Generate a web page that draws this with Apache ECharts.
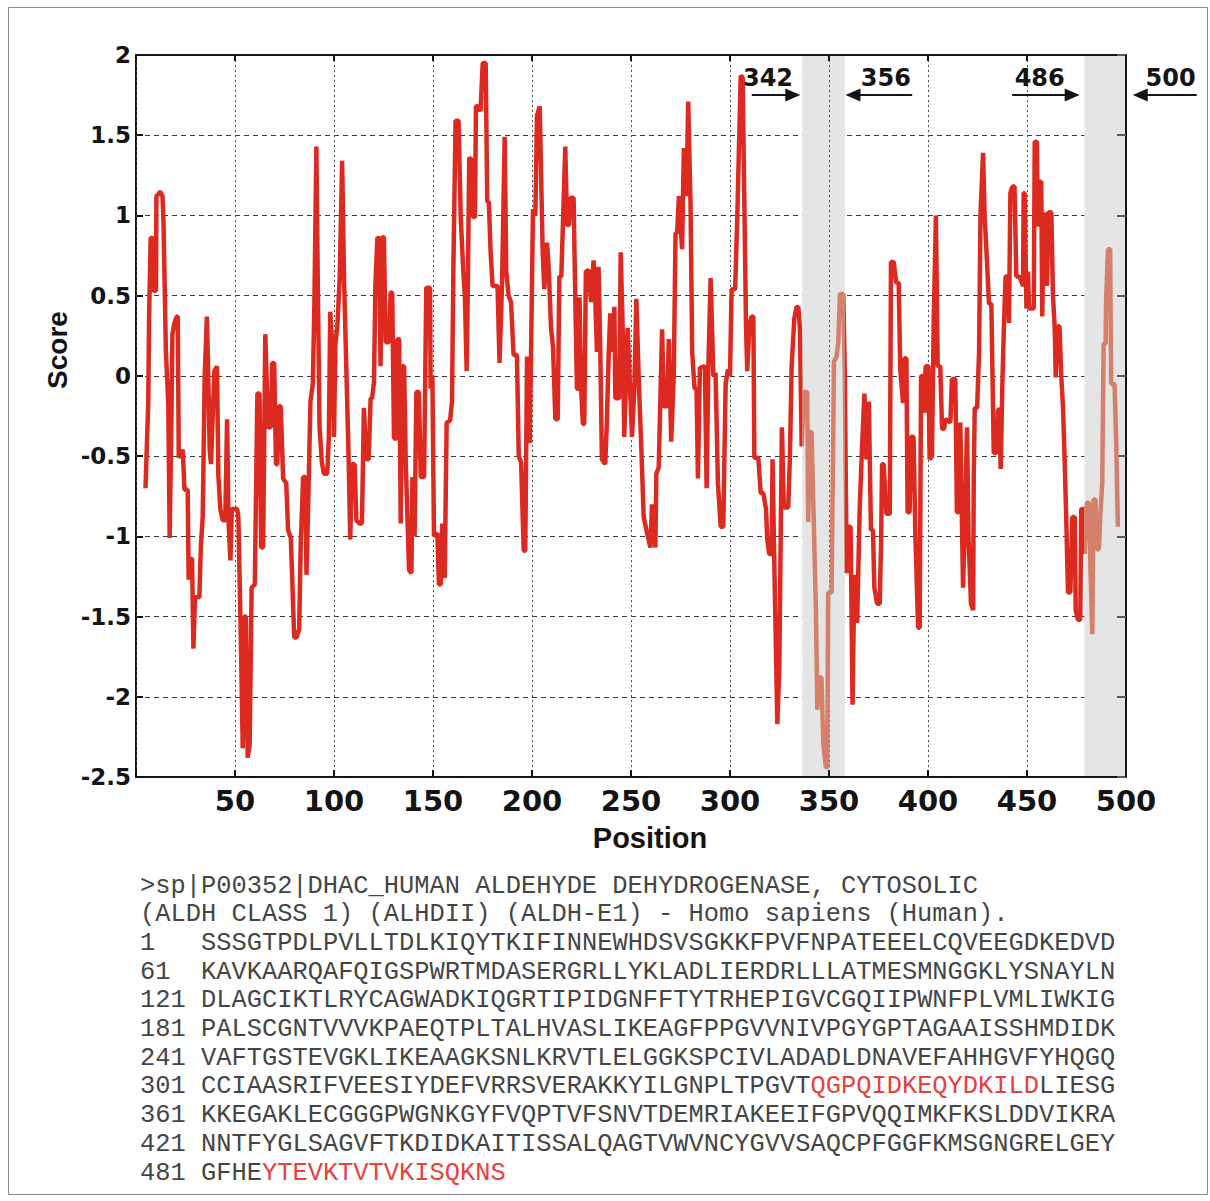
<!DOCTYPE html>
<html>
<head>
<meta charset="utf-8">
<title>ALDH1A1 epitope score profile</title>
<script src="https://cdn.jsdelivr.net/npm/echarts@6/dist/echarts.min.js"></script>
<style>
  html, body { margin: 0; padding: 0; background: #ffffff; }
  #chart { width: 1210px; height: 1201px; }
</style>
</head>
<body>
<div id="chart"></div>
<script>
// Residue position along the sequence and the smoothed score at that position
const position = [
  4.8, 6.2, 6.6, 7.4, 8.5, 8.8, 10.1, 10.3, 11.2, 12.2, 13.4, 13.9, 15.1, 16.3, 17.0, 17.7, 18.4, 19.4, 20.6, 21.1,
  21.6, 23.6, 24.5, 26.1, 26.6, 27.8, 28.3, 29.0, 29.8, 32.0, 32.8, 33.7, 34.7, 35.8, 36.5, 37.2, 37.9, 38.8, 39.6, 40.9,
  41.6, 42.6, 43.8, 45.1, 46.0, 46.7, 47.7, 48.4, 49.7, 51.1, 51.7, 53.0, 53.9, 54.7, 55.5, 56.4, 57.4, 58.4, 60.0, 61.3,
  62.4, 63.2, 64.2, 65.3, 66.7, 68.1, 68.8, 69.8, 70.7, 71.4, 72.1, 73.1, 74.3, 75.9, 76.8, 78.2, 79.9, 81.1, 82.4, 83.2,
  84.4, 85.5, 86.1, 87.1, 88.1, 89.3, 90.1, 91.1, 91.8, 92.7, 93.9, 94.9, 96.6, 97.4, 98.1, 99.2, 100.0, 100.7, 101.7, 102.9,
  104.1, 105.1, 106.2, 107.4, 108.2, 109.1, 110.4, 111.3, 113.0, 114.1, 115.1, 116.3, 117.5, 118.5, 119.2, 120.2, 120.9, 121.9, 122.8, 123.5,
  124.4, 125.2, 126.1, 127.8, 128.6, 129.4, 130.3, 131.6, 132.0, 132.9, 133.7, 134.5, 135.4, 136.2, 137.9, 139.1, 139.6, 140.7, 141.6, 142.9,
  143.8, 145.5, 146.6, 148.5, 148.8, 149.7, 150.5, 152.2, 153.0, 153.9, 154.7, 155.9, 156.9, 158.6, 159.6, 160.3, 161.4, 162.9, 164.0, 165.3,
  166.1, 167.0, 167.7, 168.3, 169.3, 170.2, 171.2, 171.7, 172.7, 174.0, 175.1, 176.6, 177.4, 178.2, 179.1, 180.1, 182.6, 183.6, 184.9, 186.2,
  187.0, 188.2, 189.4, 190.7, 192.4, 193.3, 194.5, 195.8, 196.6, 197.5, 198.8, 199.5, 200.5, 201.7, 202.5, 203.9, 204.5, 205.4, 206.2, 207.6,
  208.4, 209.6, 210.6, 211.8, 213.0, 213.8, 214.8, 215.6, 216.8, 217.7, 218.7, 219.3, 221.0, 221.9, 222.7, 223.5, 224.0, 224.7, 225.7, 226.4,
  227.2, 228.6, 229.8, 231.1, 232.0, 232.8, 233.6, 234.5, 235.3, 237.0, 237.8, 238.7, 239.5, 240.9, 241.6, 242.1, 244.0, 244.8, 245.9, 246.6,
  248.3, 250.5, 251.7, 252.7, 253.9, 255.1, 256.4, 257.8, 259.8, 260.6, 262.3, 262.8, 264.0, 265.7, 266.6, 268.2, 269.1, 270.3, 271.6, 272.5,
  273.3, 274.2, 275.8, 276.7, 278.0, 278.9, 280.1, 280.9, 282.1, 283.1, 283.8, 284.8, 287.3, 288.2, 289.0, 290.2, 291.6, 292.7, 293.9, 295.3,
  296.6, 297.8, 299.0, 300.0, 300.8, 302.6, 303.7, 305.4, 306.4, 307.1, 308.1, 308.7, 309.8, 310.9, 311.8, 312.3, 314.3, 315.5, 316.8, 318.2,
  318.8, 319.8, 321.0, 321.5, 322.2, 323.9, 324.9, 326.2, 327.2, 329.4, 330.3, 331.1, 332.5, 333.6, 334.5, 335.3, 336.2, 337.3, 339.0, 339.5,
  340.4, 341.2, 342.0, 343.4, 344.1, 345.1, 346.2, 347.1, 348.4, 349.1, 349.6, 351.3, 352.1, 352.5, 353.8, 354.7, 355.5, 357.2, 358.0, 358.9,
  359.9, 360.9, 361.9, 362.8, 364.2, 365.5, 366.7, 367.9, 368.9, 370.1, 371.2, 372.2, 372.9, 374.3, 375.6, 376.3, 376.8, 377.6, 378.5, 379.0,
  380.7, 381.3, 382.7, 383.9, 385.2, 386.0, 387.4, 388.1, 389.1, 389.7, 390.7, 391.4, 392.7, 393.6, 395.0, 395.8, 396.5, 397.5, 398.2, 398.8,
  400.2, 400.8, 402.0, 402.9, 404.0, 404.9, 406.2, 407.1, 408.2, 408.7, 411.3, 412.1, 413.8, 414.6, 415.5, 416.3, 417.7, 418.8, 419.7, 420.5,
  421.7, 422.8, 423.1, 423.6, 424.8, 425.8, 426.5, 427.8, 428.6, 429.8, 430.8, 432.0, 433.2, 434.5, 435.4, 435.9, 436.7, 437.6, 438.4, 439.2,
  440.4, 440.9, 441.6, 442.6, 443.7, 444.6, 446.0, 447.1, 448.0, 448.3, 448.8, 449.7, 450.5, 451.0, 453.4, 453.9, 455.0, 455.5, 456.4, 457.2,
  457.7, 458.4, 459.4, 460.1, 460.8, 462.3, 463.1, 464.0, 464.5, 465.6, 466.4, 467.3, 468.2, 469.0, 469.8, 470.7, 471.9, 472.9, 474.1, 474.6,
  475.7, 476.9, 477.4, 478.6, 479.1, 480.3, 481.3, 482.0, 483.0, 483.6, 484.6, 485.3, 486.3, 487.0, 488.0, 488.7, 489.7, 490.0, 490.9, 492.0,
  492.5, 494.2, 495.0, 495.9
];
const score = [
  -0.70, -0.16, 0.36, 0.86, 0.86, 0.53, 0.53, 1.12, 1.13, 1.15, 1.12, 0.95, 0.15, -0.17, -1.01, -0.44, 0.26, 0.33, 0.37, 0.37,
  -0.51, -0.46, -0.71, -0.71, -1.27, -1.14, -1.14, -1.70, -1.38, -1.38, -1.05, -0.88, 0.00, 0.37, 0.00, -0.46, -0.55, -0.23, 0.03, 0.06,
  -0.62, -0.83, -0.90, -0.90, -0.27, -0.90, -1.15, -0.83, -0.83, -0.83, -0.88, -1.67, -2.32, -1.50, -1.50, -2.38, -2.30, -1.32, -1.30, -0.11,
  -0.11, -1.07, -1.07, 0.26, -0.32, -0.32, 0.08, 0.08, -0.55, -0.55, -0.19, -0.19, -0.64, -0.67, -0.96, -1.01, -1.63, -1.63, -1.58, -1.05,
  -0.63, -0.63, -1.24, -0.73, -0.16, -0.05, 0.45, 1.43, 0.59, -0.32, -0.54, -0.61, -0.61, -0.38, 0.40, 0.18, -0.38, 0.20, 0.31, 0.62,
  1.34, 0.59, 0.06, -0.52, -1.02, -0.55, -0.55, -0.90, -0.92, -0.92, -0.20, -0.52, -0.52, -0.14, -0.14, -0.04, 0.56, 0.86, 0.86, 0.06,
  0.87, 0.86, 0.21, 0.21, 0.52, 0.52, -0.39, -0.39, 0.23, 0.23, -0.92, 0.06, 0.06, -0.52, -1.21, -1.23, -0.63, -1.00, -0.10, -0.10,
  -0.63, -0.63, 0.55, 0.55, -0.08, 0.00, -1.00, -0.98, -1.30, -1.30, -0.92, -1.26, -0.29, -0.28, -0.16, 0.68, 1.59, 1.59, 0.99, 0.65,
  0.50, 0.03, 0.68, 1.36, 1.35, 0.99, 0.99, 1.68, 1.68, 1.65, 1.95, 1.95, 1.09, 1.08, 0.77, 0.56, 0.56, 0.08, 0.59, 1.49,
  0.65, 0.50, 0.46, 0.13, 0.13, -0.50, -0.54, -1.09, -1.09, 0.12, -0.42, 0.12, 1.04, 1.00, 1.62, 1.68, 1.31, 0.77, 0.54, 0.83,
  0.68, 0.30, 0.18, -0.27, -0.27, 0.62, 0.62, 0.94, 1.43, 0.94, 0.94, 1.11, 1.11, 0.46, -0.08, -0.08, 0.49, -0.05, -0.30, -0.30,
  0.65, 0.66, 0.46, 0.72, 0.46, 0.15, 0.68, 0.15, -0.52, -0.55, -0.29, 0.12, 0.39, 0.15, 0.43, -0.14, -0.14, 0.77, 0.24, -0.38,
  0.30, -0.38, -0.08, 0.48, -0.02, -0.41, -0.88, -0.96, -1.07, -0.80, -1.07, -0.61, -0.57, 0.29, -0.19, -0.19, 0.23, -0.41, 0.00, 0.89,
  0.89, 1.12, 0.79, 1.42, 1.12, 1.71, 1.05, 0.15, -0.08, -0.08, -0.64, 0.05, 0.06, -0.70, 0.02, 0.61, 0.00, 0.02, -0.67, -0.94,
  -0.94, -0.05, 0.04, 0.00, 0.54, 0.54, 1.00, 1.87, 1.86, 1.21, 0.31, 0.03, 0.31, 0.37, 0.37, -0.51, -0.51, -0.73, -0.73, -0.83,
  -1.02, -1.11, -1.11, -0.52, -1.05, -2.17, -1.82, -0.32, -0.82, -0.82, -0.49, 0.05, 0.36, 0.43, 0.43, 0.30, -0.44, -0.10, -0.10, -0.91,
  -0.35, -0.35, -0.76, -1.46, -2.08, -1.88, -1.88, -2.29, -2.44, -2.44, -1.35, -1.35, -0.42, 0.09, 0.12, 0.21, 0.51, 0.51, 0.00, -1.23,
  -0.94, -0.94, -2.05, -1.24, -1.54, -0.83, -0.44, -0.11, -0.52, -0.16, -0.96, -0.96, -1.32, -1.42, -1.42, -1.05, -0.55, -0.55, -0.76, -0.86,
  -0.86, 0.71, 0.71, 0.58, 0.58, 0.04, -0.17, 0.11, 0.11, -0.85, -0.85, -0.38, -0.38, -0.98, -1.57, -1.57, 0.00, 0.00, -0.23, 0.06,
  0.06, -0.52, -0.50, 0.36, 1.00, 0.06, 0.06, -0.33, -0.33, -0.27, -0.29, -0.02, -0.02, -0.85, -0.85, -0.29, -1.32, -0.85, -0.32, -1.02,
  -1.42, -1.46, -0.64, -0.20, -0.20, 0.15, 1.00, 1.39, 1.00, 0.71, 0.45, 0.45, -0.48, -0.48, -0.21, -0.21, -0.58, -0.03, 0.33, 0.62,
  0.62, 0.33, 1.14, 1.18, 1.18, 0.62, 0.62, 0.59, 0.56, 1.14, 1.14, 0.42, 0.65, 0.42, 0.42, 1.46, 1.46, 0.93, 1.21, 1.21,
  0.37, 0.93, 1.02, 0.56, 1.02, 1.02, 0.50, 0.30, -0.01, 0.31, 0.31, 0.00, -0.20, -0.52, -0.88, -1.35, -1.35, -0.88, -0.88, -1.46,
  -1.52, -1.52, -0.83, -0.83, -1.11, -0.79, -0.79, -1.17, -1.61, -0.77, -0.77, -1.08, -1.08, -0.88, -0.67, 0.20, 0.20, 0.49, 0.79, 0.79,
  -0.05, -0.05, -0.38, -0.94
];

// Shaded position windows around the two peptides
const shadedRanges = [[336.5, 358], [479, 500]];

// Arrow annotations above the plot: label, arrow tail, arrow tip, label centre (all in positions)
const peptideMarks = [
  { label: '342', tail: 311, tip: 335.5, textAt: 319.2 },
  { label: '356', tail: 392, tip: 358.3, textAt: 378.7 },
  { label: '486', tail: 442.5, tip: 476.6, textAt: 456.4 },
  { label: '500', tail: 535.7, tip: 503.4, textAt: 522.5 }
];

// FASTA record printed under the chart
const headerLines = [
  '>sp|P00352|DHAC_HUMAN ALDEHYDE DEHYDROGENASE, CYTOSOLIC',
  '(ALDH CLASS 1) (ALHDII) (ALDH-E1) - Homo sapiens (Human).'
];
const rowStarts = [1, 61, 121, 181, 241, 301, 361, 421, 481];
const rowResidues = [
  'SSSGTPDLPVLLTDLKIQYTKIFINNEWHDSVSGKKFPVFNPATEEELCQVEEGDKEDVD',
  'KAVKAARQAFQIGSPWRTMDASERGRLLYKLADLIERDRLLLATMESMNGGKLYSNAYLN',
  'DLAGCIKTLRYCAGWADKIQGRTIPIDGNFFTYTRHEPIGVCGQIIPWNFPLVMLIWKIG',
  'PALSCGNTVVVKPAEQTPLTALHVASLIKEAGFPPGVVNIVPGYGPTAGAAISSHMDIDK',
  'VAFTGSTEVGKLIKEAAGKSNLKRVTLELGGKSPCIVLADADLDNAVEFAHHGVFYHQGQ',
  'CCIAASRIFVEESIYDEFVRRSVERAKKYILGNPLTPGVTQGPQIDKEQYDKILDLIESG',
  'KKEGAKLECGGGPWGNKGYFVQPTVFSNVTDEMRIAKEEIFGPVQQIMKFKSLDDVIKRA',
  'NNTFYGLSAGVFTKDIDKAITISSALQAGTVWVNCYGVVSAQCPFGGFKMSGNGRELGEY',
  'GFHEYTEVKTVTVKISQKNS'
];
// Residue ranges printed in red
const peptideResidues = [[341, 355], [485, 500]];

const RED = '#dc2a20';
const LIGHT = '#d5806c';
const INK = '#141414';
const TICK_FONT = 'DejaVu Sans';

const chart = echarts.init(document.getElementById('chart'), null, { renderer: 'svg' });

// colour pieces along x: light inside the shaded windows, red elsewhere
const pieces = [];
let from = -1000;
shadedRanges.forEach(([a, b]) => {
  pieces.push({ gt: from, lt: a, color: RED });
  pieces.push({ gte: a, lte: b, color: LIGHT });
  from = b;
});
pieces.push({ gt: from, lt: 1000, color: RED });

const axisInk = { color: INK, width: 2 };

chart.setOption({
  animation: false,
  backgroundColor: '#ffffff',
  grid: { left: 136, right: 84, top: 55, bottom: 424, containLabel: false, outerBoundsMode: 'none' },
  xAxis: [
    {
      type: 'value', min: 0, max: 500, interval: 50, position: 'bottom', z: 2,
      axisLine: { show: true, onZero: false, lineStyle: axisInk },
      axisTick: { show: true, inside: true, length: 7, lineStyle: axisInk },
      axisLabel: {
        formatter: v => (v === 0 ? '' : String(v)),
        fontFamily: TICK_FONT, fontWeight: 'bold', fontSize: 29, color: INK, margin: 9
      },
      splitLine: { show: true, lineStyle: { color: '#4a4a4a', width: 1, type: [2, 3] } }
    },
    {
      type: 'value', min: 0, max: 500, interval: 50, position: 'top', z: 2,
      axisLine: { show: true, onZero: false, lineStyle: axisInk },
      axisTick: { show: true, inside: true, length: 6, lineStyle: axisInk },
      axisLabel: { show: false },
      splitLine: { show: false }
    }
  ],
  yAxis: [
    {
      type: 'value', min: -2.5, max: 2, interval: 0.5, position: 'left', z: 0,
      axisLine: { show: true, onZero: false, lineStyle: axisInk },
      axisTick: { show: true, inside: true, length: 7, lineStyle: axisInk },
      axisLabel: { fontFamily: TICK_FONT, fontWeight: 'bold', fontSize: 23, color: INK, margin: 5 },
      splitLine: { show: true, lineStyle: { color: '#3c3c3c', width: 1, type: [5, 4] } }
    },
    {
      type: 'value', min: -2.5, max: 2, interval: 0.5, position: 'right', z: 2,
      axisLine: { show: true, onZero: false, lineStyle: axisInk },
      axisTick: { show: true, inside: true, length: 9, lineStyle: { color: '#5a5a5a', width: 2 } },
      axisLabel: { show: false },
      splitLine: { show: false }
    }
  ],
  visualMap: {
    type: 'piecewise', show: false, dimension: 0, seriesIndex: 1, pieces: pieces
  },
  series: [
    {
      name: 'windows', type: 'line', data: [], z: 1, silent: true,
      markArea: {
        silent: true,
        itemStyle: { color: '#e5e5e5' },
        data: shadedRanges.map(([a, b]) => [{ xAxis: a }, { xAxis: b }])
      }
    },
    {
      name: 'score', type: 'line', z: 3,
      data: position.map((p, i) => [p, score[i]]),
      showSymbol: false, symbol: 'none',
      lineStyle: { width: 4.5, join: 'bevel', cap: 'butt' }
    }
  ]
});

// Annotations, axis titles and the sequence block
const els = [];
const toPx = (x, y) => chart.convertToPixel({ gridIndex: 0 }, [x, y]);
const plotTop = toPx(0, 2)[1];
const arrowY = plotTop + 40;

peptideMarks.forEach(m => {
  const xt = toPx(m.tail, 0)[0];
  const xh = toPx(m.tip, 0)[0];
  const xl = toPx(m.textAt, 0)[0];
  const dir = xh > xt ? 1 : -1;
  const headLen = 15, headHalf = 6.5;
  els.push({
    type: 'line', z: 30,
    shape: { x1: xt, y1: arrowY, x2: xh - dir * headLen + dir, y2: arrowY },
    style: { stroke: INK, lineWidth: 2 }
  });
  els.push({
    type: 'polygon', z: 30,
    shape: { points: [[xh, arrowY], [xh - dir * headLen, arrowY - headHalf], [xh - dir * headLen, arrowY + headHalf]] },
    style: { fill: INK }
  });
  els.push({
    type: 'text', z: 30, x: xl, y: arrowY - 5,
    style: {
      text: m.label, fill: INK, fontFamily: TICK_FONT, fontWeight: 'bold', fontSize: 24,
      align: 'center', verticalAlign: 'bottom'
    }
  });
});

els.push({
  type: 'text', z: 30, x: 57, y: 350, rotation: Math.PI / 2,
  style: {
    text: 'Score', fill: INK, fontFamily: 'Liberation Sans', fontWeight: 'bold', fontSize: 28,
    align: 'center', verticalAlign: 'middle'
  }
});
els.push({
  type: 'text', z: 30, x: 650, y: 838,
  style: {
    text: 'Position', fill: INK, fontFamily: 'Liberation Sans', fontWeight: 'bold', fontSize: 29,
    align: 'center', verticalAlign: 'middle'
  }
});

const MONO = 'Liberation Mono';
const MONO_SIZE = 25.4;
const SEQ_INK = '#454545';
const SEQ_RED = '#e8403a';
const lineGap = 28.7;
const firstLineY = 886;
const textLeft = 140;
const residueLeft = 201;

headerLines.forEach((t, i) => {
  els.push({
    type: 'text', z: 30, x: textLeft, y: firstLineY + i * lineGap,
    style: { text: t, fill: SEQ_INK, fontFamily: MONO, fontSize: MONO_SIZE, align: 'left', verticalAlign: 'middle' }
  });
});

rowStarts.forEach((start, r) => {
  const y = firstLineY + (r + headerLines.length) * lineGap;
  els.push({
    type: 'text', z: 30, x: textLeft, y: y,
    style: { text: String(start), fill: SEQ_INK, fontFamily: MONO, fontSize: MONO_SIZE, align: 'left', verticalAlign: 'middle' }
  });
  // split the row into plain and red runs
  const residues = rowResidues[r];
  let rich = '';
  let run = '';
  let runRed = null;
  for (let k = 0; k < residues.length; k++) {
    const n = start + k;
    const isRed = peptideResidues.some(([a, b]) => n >= a && n <= b);
    if (runRed !== null && isRed !== runRed) {
      rich += '{' + (runRed ? 'r' : 'n') + '|' + run + '}';
      run = '';
    }
    runRed = isRed;
    run += residues[k];
  }
  if (run) rich += '{' + (runRed ? 'r' : 'n') + '|' + run + '}';
  els.push({
    type: 'text', z: 30, x: residueLeft, y: y,
    style: {
      text: rich, fontFamily: MONO, fontSize: MONO_SIZE, align: 'left', verticalAlign: 'middle',
      rich: {
        n: { fill: SEQ_INK, fontFamily: MONO, fontSize: MONO_SIZE },
        r: { fill: SEQ_RED, fontFamily: MONO, fontSize: MONO_SIZE }
      }
    }
  });
});

// thin frame around the whole figure
els.push({
  type: 'rect', z: 0, silent: true,
  shape: { x: 8.5, y: 7.5, width: 1199, height: 1187 },
  style: { fill: 'none', stroke: '#8a8a8a', lineWidth: 1 }
});

chart.setOption({ graphic: els });
</script>
</body>
</html>
